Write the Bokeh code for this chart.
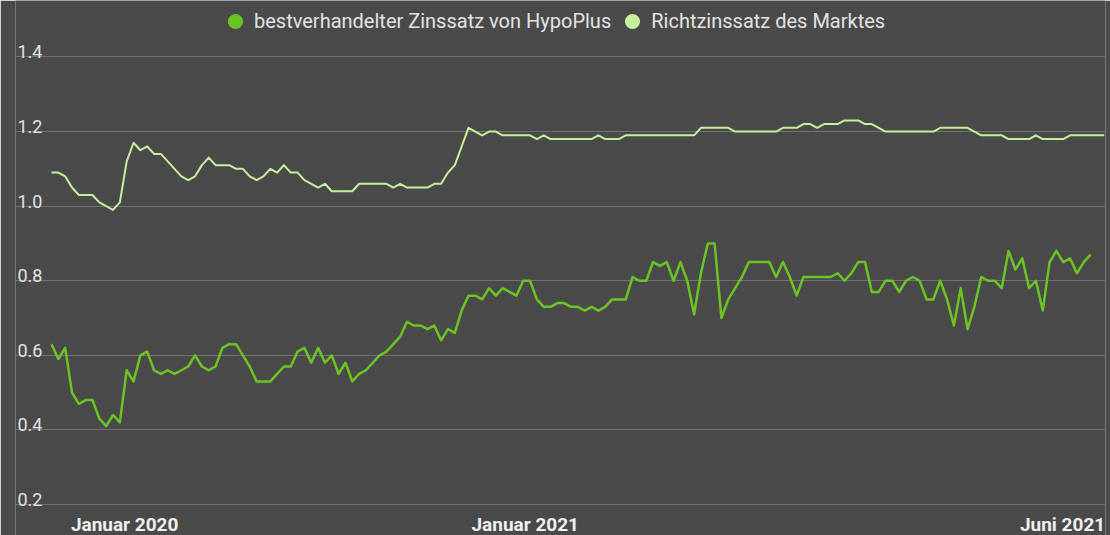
from bokeh.plotting import figure
from bokeh.models import Range1d, FixedTicker, Legend, LegendItem, ColumnDataSource, Grid
from bokeh.core.properties import value
from bokeh.embed import file_html
from bokeh.resources import INLINE

# ---- data ----
series_names = ["bestverhandelter Zinssatz von HypoPlus", "Richtzinssatz des Marktes"]

hypoplus_rate = [
    0.63, 0.59, 0.62, 0.50, 0.47, 0.48, 0.48, 0.43, 0.41, 0.44,
    0.42, 0.56, 0.53, 0.60, 0.61, 0.56, 0.55, 0.56, 0.55, 0.56,
    0.57, 0.60, 0.57, 0.56, 0.57, 0.62, 0.63, 0.63, 0.60, 0.57,
    0.53, 0.53, 0.53, 0.55, 0.57, 0.57, 0.61, 0.62, 0.58, 0.62,
    0.58, 0.60, 0.55, 0.58, 0.53, 0.55, 0.56, 0.58, 0.60, 0.61,
    0.63, 0.65, 0.69, 0.68, 0.68, 0.67, 0.68, 0.64, 0.67, 0.66,
    0.72, 0.76, 0.76, 0.75, 0.78, 0.76, 0.78, 0.77, 0.76, 0.80,
    0.80, 0.75, 0.73, 0.73, 0.74, 0.74, 0.73, 0.73, 0.72, 0.73,
    0.72, 0.73, 0.75, 0.75, 0.75, 0.81, 0.80, 0.80, 0.85, 0.84,
    0.85, 0.80, 0.85, 0.80, 0.71, 0.82, 0.90, 0.90, 0.70, 0.75,
    0.78, 0.81, 0.85, 0.85, 0.85, 0.85, 0.81, 0.85, 0.81, 0.76,
    0.81, 0.81, 0.81, 0.81, 0.81, 0.82, 0.80, 0.82, 0.85, 0.85,
    0.77, 0.77, 0.80, 0.80, 0.77, 0.80, 0.81, 0.80, 0.75, 0.75,
    0.80, 0.75, 0.68, 0.78, 0.67, 0.73, 0.81, 0.80, 0.80, 0.78,
    0.88, 0.83, 0.86, 0.78, 0.80, 0.72, 0.85, 0.88, 0.85, 0.86,
    0.82, 0.85, 0.87,
]

market_rate = [
    1.09, 1.09, 1.08, 1.05, 1.03, 1.03, 1.03, 1.01, 1.00, 0.99,
    1.01, 1.12, 1.17, 1.15, 1.16, 1.14, 1.14, 1.12, 1.10, 1.08,
    1.07, 1.08, 1.11, 1.13, 1.11, 1.11, 1.11, 1.10, 1.10, 1.08,
    1.07, 1.08, 1.10, 1.09, 1.11, 1.09, 1.09, 1.07, 1.06, 1.05,
    1.06, 1.04, 1.04, 1.04, 1.04, 1.06, 1.06, 1.06, 1.06, 1.06,
    1.05, 1.06, 1.05, 1.05, 1.05, 1.05, 1.06, 1.06, 1.09, 1.11,
    1.16, 1.21, 1.20, 1.19, 1.20, 1.20, 1.19, 1.19, 1.19, 1.19,
    1.19, 1.18, 1.19, 1.18, 1.18, 1.18, 1.18, 1.18, 1.18, 1.18,
    1.19, 1.18, 1.18, 1.18, 1.19, 1.19, 1.19, 1.19, 1.19, 1.19,
    1.19, 1.19, 1.19, 1.19, 1.19, 1.21, 1.21, 1.21, 1.21, 1.21,
    1.20, 1.20, 1.20, 1.20, 1.20, 1.20, 1.20, 1.21, 1.21, 1.21,
    1.22, 1.22, 1.21, 1.22, 1.22, 1.22, 1.23, 1.23, 1.23, 1.22,
    1.22, 1.21, 1.20, 1.20, 1.20, 1.20, 1.20, 1.20, 1.20, 1.20,
    1.21, 1.21, 1.21, 1.21, 1.21, 1.20, 1.19, 1.19, 1.19, 1.19,
    1.18, 1.18, 1.18, 1.18, 1.19, 1.18, 1.18, 1.18, 1.18, 1.19,
    1.19, 1.19, 1.19, 1.19, 1.19,
]

y_ticks = [0.2, 0.4, 0.6, 0.8, 1.0, 1.2, 1.4]
y_tick_labels = ["0.2", "0.4", "0.6", "0.8", "1.0", "1.2", "1.4"]
x_tick_pos = [10.7, 69.3, 147.9]
x_tick_labels = ["Januar 2020", "Januar 2021", "Juni 2021"]

# ---- styling ----
BG = "#4a4a4a"
GRID = "#727272"
GREEN = "#6cc424"
LIGHT = "#c6ef9c"
TEXT = "#e2e2e2"

x_range = Range1d(-5.266, 154.18)
y_range = Range1d(0.1168, 1.5515)

p = figure(width=1110, height=535, output_backend="svg", toolbar_location=None,
           x_range=x_range, y_range=y_range,
           x_axis_location=None, y_axis_location=None,
           min_border_left=15, min_border_right=5, min_border_top=0, min_border_bottom=0)
p.background_fill_color = BG
p.border_fill_color = BG
p.outline_line_color = None
p.center = [r for r in p.center if not isinstance(r, Grid)]
p.add_layout(Grid(dimension=1, ticker=FixedTicker(ticks=y_ticks),
                  grid_line_color=GRID, grid_line_width=1))

src_g = ColumnDataSource(dict(x=list(range(len(hypoplus_rate))), y=hypoplus_rate))
src_m = ColumnDataSource(dict(x=list(range(len(market_rate))), y=market_rate))

p.line("x", "y", source=src_m, line_color=LIGHT, line_width=2, line_join="round")
p.line("x", "y", source=src_g, line_color=GREEN, line_width=2.5, line_join="round")

# legend markers (no data points of their own)
nan = float("nan")
dot_g = p.scatter(x=[nan], y=[nan], marker="circle", fill_color=GREEN, line_color=None)
dot_m = p.scatter(x=[nan], y=[nan], marker="circle", fill_color=LIGHT, line_color=None)

legend = Legend(items=[LegendItem(label=series_names[0], renderers=[dot_g]),
                       LegendItem(label=series_names[1], renderers=[dot_m])],
                orientation="horizontal", location=(201, 495),
                glyph_width=38, glyph_height=38, label_standoff=-1, spacing=2,
                padding=0, margin=0, border_line_color=None, background_fill_alpha=0,
                label_text_font="Roboto", label_text_font_size="20px",
                label_text_color=TEXT)
p.add_layout(legend)

# y tick labels sitting above the grid lines
p.text(x=[x_range.start] * len(y_ticks), y=y_ticks, text=y_tick_labels,
       x_offset=2, y_offset=-5, text_align="left", text_baseline="alphabetic",
       text_font=value("Roboto"), text_font_size="18px", text_color=TEXT)

# x tick labels along the bottom
p.text(x=x_tick_pos, y=[y_range.start] * len(x_tick_pos), text=x_tick_labels,
       text_align="center", text_baseline="bottom",
       text_font=value("Roboto"), text_font_size="19px", text_font_style="bold",
       text_color="#f0f0f0")

open("out.html", "w").write(file_html(p, INLINE))
